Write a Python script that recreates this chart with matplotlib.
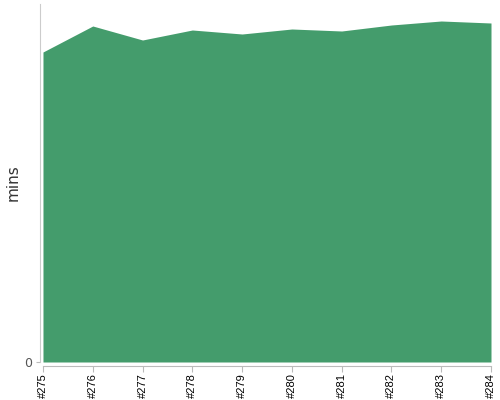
import matplotlib
matplotlib.use('Agg')
import matplotlib.pyplot as plt
import numpy as np

# build numbers and durations (mins)
builds = ['#275', '#276', '#277', '#278', '#279', '#280', '#281', '#282', '#283', '#284']
durations = [31.0, 33.6, 32.2, 33.2, 32.8, 33.3, 33.1, 33.7, 34.1, 33.9]
y_top = 35.8

fig = plt.figure(figsize=(5, 4), dpi=100)
ax = fig.add_axes([0.079, 0.095, 0.903, 0.895])

x = np.arange(len(builds))
ax.fill_between(x, 0, durations, color='#449c6c', linewidth=0)

ax.set_xlim(-0.07, len(builds) - 1)
ax.set_ylim(0, y_top)

ax.tick_params(axis='x', length=4, color='#bbbbbb', pad=1, labelrotation=90,
               labelsize=8, labelcolor='black', labelfontfamily='Liberation Sans')
ax.tick_params(axis='y', length=3, color='#bbbbbb', pad=2,
               labelsize=9, labelcolor='#555555')
ax.set_xticks(x, builds)
ax.set_yticks([0], ['0'])

for s in ['top', 'right']:
    ax.spines[s].set_visible(False)
ax.spines['left'].set_color('#cccccc')
ax.spines['bottom'].set_color('#bbbbbb')
ax.spines['bottom'].set_position(('outward', 3))
ax.spines['bottom'].set_bounds(0, len(builds) - 1)

ax.set_ylabel('mins', fontsize=11, color='#333333', labelpad=3)

fig.savefig('out.png', dpi=100)
